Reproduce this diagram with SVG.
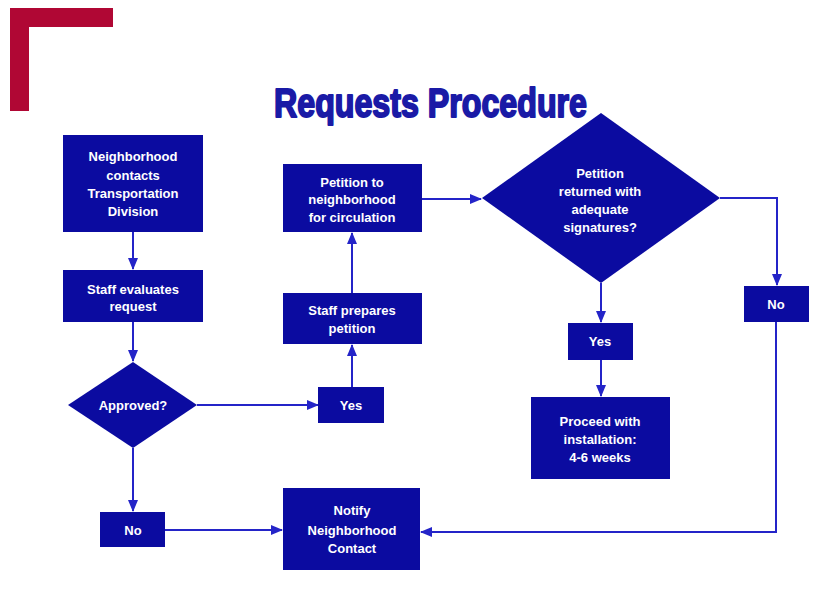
<svg xmlns="http://www.w3.org/2000/svg" width="820" height="592" viewBox="0 0 820 592">
  <style>
    .box { fill: #0b0ba0; }
    .lbl { font-family: "Liberation Sans", Arial, sans-serif; font-weight: bold; font-size: 13px; fill: #ffffff; text-anchor: middle; }
    .wire { fill: none; stroke: #2424c8; stroke-width: 2; }
    .title { font-family: "Liberation Sans", Arial, sans-serif; font-weight: bold; font-size: 40px; fill: #1a1aa6; stroke: #1a1aa6; stroke-width: 2; stroke-linejoin: round; }
  </style>
  <defs>
    <marker id="arrow" viewBox="0 0 12 10" refX="11" refY="5" markerWidth="12" markerHeight="11" markerUnits="userSpaceOnUse" orient="auto">
      <path d="M0,0 L12,5 L0,10 Z" fill="#2424c8"/>
    </marker>
  </defs>

  <rect width="820" height="592" fill="#ffffff"/>

  <!-- corner bracket -->
  <path d="M10,8 H113 V27 H29 V111 H10 Z" fill="#b00734"/>

  <text class="title" x="274" y="117" textLength="313" lengthAdjust="spacingAndGlyphs">Requests Procedure</text>

  <g id="connectors">
    <line class="wire" x1="133" y1="232" x2="133" y2="269" marker-end="url(#arrow)"/>
    <line class="wire" x1="133" y1="322" x2="133" y2="361" marker-end="url(#arrow)"/>
    <line class="wire" x1="197" y1="405" x2="318" y2="405" marker-end="url(#arrow)"/>
    <line class="wire" x1="352" y1="387" x2="352" y2="345" marker-end="url(#arrow)"/>
    <line class="wire" x1="352" y1="293" x2="352" y2="233" marker-end="url(#arrow)"/>
    <line class="wire" x1="422" y1="199" x2="481" y2="199" marker-end="url(#arrow)"/>
    <line class="wire" x1="133" y1="448" x2="133" y2="511" marker-end="url(#arrow)"/>
    <line class="wire" x1="165" y1="530" x2="282" y2="530" marker-end="url(#arrow)"/>
    <line class="wire" x1="601" y1="283" x2="601" y2="322" marker-end="url(#arrow)"/>
    <line class="wire" x1="601" y1="360" x2="601" y2="396" marker-end="url(#arrow)"/>
    <polyline class="wire" points="720,198 777,198 777,285" marker-end="url(#arrow)"/>
    <polyline class="wire" points="776,322 776,532 421,532" marker-end="url(#arrow)"/>
  </g>

  <g id="contact">
    <rect class="box" x="63" y="135" width="140" height="97"/>
    <text class="lbl" x="133" y="161">Neighborhood</text>
    <text class="lbl" x="133" y="180">contacts</text>
    <text class="lbl" x="133" y="198">Transportation</text>
    <text class="lbl" x="133" y="216">Division</text>
  </g>

  <g id="evaluate">
    <rect class="box" x="63" y="270" width="140" height="52"/>
    <text class="lbl" x="133" y="294">Staff evaluates</text>
    <text class="lbl" x="133" y="311">request</text>
  </g>

  <g id="approved">
    <polygon class="box" points="133,362 197,405 133,448 68,405"/>
    <text class="lbl" x="133" y="410">Approved?</text>
  </g>

  <g id="approved-yes">
    <rect class="box" x="318" y="387" width="66" height="36"/>
    <text class="lbl" x="351" y="410">Yes</text>
  </g>

  <g id="approved-no">
    <rect class="box" x="100" y="512" width="65" height="35"/>
    <text class="lbl" x="133" y="535">No</text>
  </g>

  <g id="prepare">
    <rect class="box" x="283" y="293" width="139" height="51"/>
    <text class="lbl" x="352" y="315">Staff prepares</text>
    <text class="lbl" x="352" y="333">petition</text>
  </g>

  <g id="circulate">
    <rect class="box" x="283" y="164" width="139" height="68"/>
    <text class="lbl" x="352" y="187">Petition to</text>
    <text class="lbl" x="352" y="204">neighborhood</text>
    <text class="lbl" x="352" y="222">for circulation</text>
  </g>

  <g id="signatures">
    <polygon class="box" points="601,113 720,198 601,283 482,198"/>
    <text class="lbl" x="600" y="178">Petition</text>
    <text class="lbl" x="600" y="196">returned with</text>
    <text class="lbl" x="600" y="214">adequate</text>
    <text class="lbl" x="600" y="232">signatures?</text>
  </g>

  <g id="signatures-yes">
    <rect class="box" x="568" y="323" width="65" height="37"/>
    <text class="lbl" x="600" y="346">Yes</text>
  </g>

  <g id="signatures-no">
    <rect class="box" x="744" y="286" width="65" height="36"/>
    <text class="lbl" x="776" y="309">No</text>
  </g>

  <g id="install">
    <rect class="box" x="531" y="397" width="139" height="82"/>
    <text class="lbl" x="600" y="426">Proceed with</text>
    <text class="lbl" x="600" y="444">installation:</text>
    <text class="lbl" x="600" y="462">4-6 weeks</text>
  </g>

  <g id="notify">
    <rect class="box" x="283" y="488" width="137" height="82"/>
    <text class="lbl" x="352" y="515">Notify</text>
    <text class="lbl" x="352" y="535">Neighborhood</text>
    <text class="lbl" x="352" y="553">Contact</text>
  </g>
</svg>
